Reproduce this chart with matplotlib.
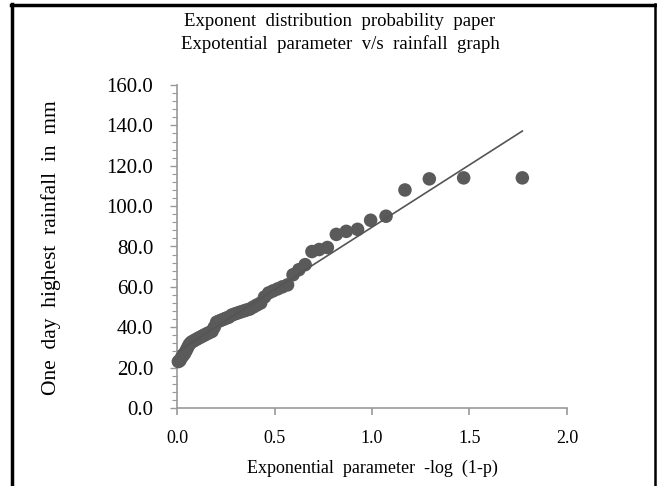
import numpy as np
import matplotlib
matplotlib.use("Agg")
import matplotlib.pyplot as plt
from matplotlib.lines import Line2D
from matplotlib.ticker import MultipleLocator, FormatStrFormatter

plt.rcParams['font.family'] = ['Liberation Serif', 'DejaVu Serif']

exp_param = [1.771, 1.470, 1.294, 1.169, 1.072, 0.993, 0.926, 0.868, 0.817, 0.771,
             0.729, 0.692, 0.657, 0.625, 0.595, 0.567, 0.540, 0.516, 0.492, 0.470,
             0.449, 0.429, 0.409, 0.391, 0.373, 0.356, 0.340, 0.324, 0.309, 0.294,
             0.280, 0.266, 0.252, 0.240, 0.227, 0.215, 0.203, 0.191, 0.180, 0.169,
             0.158, 0.148, 0.138, 0.128, 0.118, 0.108, 0.099, 0.090, 0.081, 0.072,
             0.063, 0.055, 0.047, 0.039, 0.031, 0.023, 0.015, 0.007]
# One day highest rainfall in mm
rainfall = [114.0, 114.0, 113.5, 108.0, 95.0, 93.0, 88.5, 87.5, 86.0, 79.5,
            78.5, 77.5, 71.0, 68.5, 66.0, 61.0, 60.0, 59.0, 58.0, 57.0,
            55.0, 52.0, 51.0, 50.0, 49.0, 48.5, 48.0, 47.5, 47.0, 46.5,
            46.0, 45.0, 44.5, 44.0, 43.5, 43.0, 42.5, 40.0, 38.0, 37.5,
            37.0, 36.5, 36.0, 35.5, 35.0, 34.5, 34.0, 33.5, 33.0, 32.5,
            31.5, 30.0, 28.5, 27.0, 26.0, 25.0, 23.5, 23.0]

title_lines = ["Exponent  distribution  probability  paper",
               "Expotential  parameter  v/s  rainfall  graph"]
x_label = "Exponential  parameter  -log  (1-p)"
y_label = "One  day  highest  rainfall  in  mm"

W, H = 657, 486
fig = plt.figure(figsize=(W / 100, H / 100), dpi=100)
fig.patch.set_facecolor('white')

ax = fig.add_axes([177 / W, 1 - 408 / H, (567 - 177) / W, (408 - 85) / H])
ax.set_xlim(0, 2.0)
ax.set_ylim(0, 160)

x = np.array(exp_param)
y = np.array(rainfall)
ax.scatter(x, y, s=95, color='#5a5a5a', edgecolors='none', zorder=3, clip_on=False)

slope, intercept = np.polyfit(x, y, 1)
xl = np.array([x.min(), x.max()])
ax.plot(xl, intercept + slope * xl, color='#555555', lw=1.2, zorder=4)

for s in ['top', 'right']:
    ax.spines[s].set_visible(False)
for s in ['left', 'bottom']:
    ax.spines[s].set_color('#999999')
    ax.spines[s].set_linewidth(1.2)

ax.xaxis.set_major_locator(MultipleLocator(0.5))
ax.yaxis.set_major_locator(MultipleLocator(20))
ax.yaxis.set_minor_locator(MultipleLocator(4))
ax.xaxis.set_major_formatter(FormatStrFormatter('%.1f'))
ax.yaxis.set_major_formatter(FormatStrFormatter('%.1f'))
ax.tick_params(axis='x', which='major', direction='out', length=5, width=1.2,
               color='#999999', labelsize=13, pad=11)
ax.tick_params(axis='y', which='major', direction='out', length=5, width=1.0,
               color='#999999', labelsize=15, pad=12)
ax.tick_params(axis='y', which='minor', direction='out', length=3.5, width=0.8,
               color='#999999')

fig.text(340 / W, 1 - 22 / H, title_lines[0], ha='center', va='center', fontsize=13.5)
fig.text(340 / W, 1 - 44 / H, title_lines[1], ha='center', va='center', fontsize=13.5)
fig.text(372 / W, 1 - 468 / H, x_label, ha='center', va='center', fontsize=13)
fig.text(51 / W, 1 - 248 / H, y_label, ha='center', va='center', rotation=90, fontsize=15.5)

# outer frame
fig.add_artist(Line2D([12 / W, 12 / W], [0, 1 - 4 / H], transform=fig.transFigure,
                      color='black', lw=2.5))
fig.add_artist(Line2D([11 / W, 656 / W], [1 - 5 / H, 1 - 5 / H], transform=fig.transFigure,
                      color='black', lw=2.5))
fig.add_artist(Line2D([655 / W, 655 / W], [0, 1 - 4 / H], transform=fig.transFigure,
                      color='black', lw=1.8))

fig.savefig('out.png', dpi=100)
